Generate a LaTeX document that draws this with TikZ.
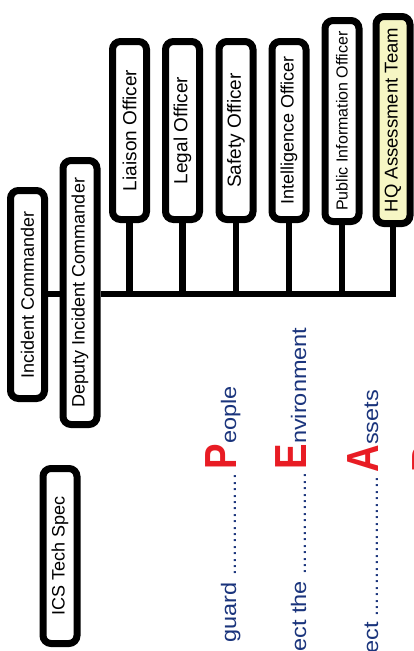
\documentclass[tikz,border=0pt]{standalone}
\usepackage{fontspec}
\setmainfont{Liberation Sans}
\definecolor{peartext}{RGB}{26,52,124}
\definecolor{pearred}{RGB}{232,28,36}
\definecolor{hqfill}{RGB}{246,246,196}
% a run of evenly spaced full stops of a given length
\newcommand{\dotrun}[1]{\hbox to #1{\leaders\hbox to 6.4pt{\hss.\hss}\hfill}}
\newcommand{\fs}[1]{\fontsize{#1}{#1}\selectfont}
% upright label set sideways inside a box
\newcommand{\sidelabel}[2]{\rotatebox{90}{\fs{#1}#2}}

\begin{document}
\begin{tikzpicture}[x=1pt,y=-1pt,
  orgbox/.style={draw=black, fill=white, line width=7pt, rounded corners=8pt,
                 minimum width=34pt, inner sep=0pt},
  link/.style={line width=6.5pt, black},
  word/.style={text=peartext, inner sep=0pt, rotate=90, font=\fs{21}},
  letter/.style={text=pearred, inner sep=0pt, rotate=90, font=\fs{45}\bfseries}]
\useasboundingbox (0,0) rectangle (414,651);
\clip (0,0) rectangle (414,651);
\fill[white] (0,0) rectangle (414,651);

% command column
\node[orgbox, minimum height=208pt] (inc) at (27.5,294.5) {\sidelabel{18}{Incident Commander}};
\node[orgbox, minimum height=264pt] (dep) at (80,292.5) {\sidelabel{18}{Deputy Incident Commander}};
\node[orgbox, minimum height=175pt] (ics) at (60,556) {\sidelabel{18}{ICS Tech Spec}};

% command staff
\node[orgbox, minimum height=178pt] (lia) at (129.5,130.5) {\sidelabel{19}{Liaison Officer}};
\node[orgbox, minimum height=178pt] (leg) at (182.5,130.5) {\sidelabel{19}{Legal Officer}};
\node[orgbox, minimum height=178pt] (saf) at (236,130.5) {\sidelabel{19}{Safety Officer}};
\node[orgbox, minimum height=178pt] (int) at (289,130.5) {\sidelabel{18}{Intelligence Officer}};
\node[orgbox, minimum height=201pt] (pio) at (342,121) {\sidelabel{16}{Public Information Officer}};
\node[orgbox, fill=hqfill, minimum height=207pt] (hq) at (393,120) {\sidelabel{18.5}{HQ Assessment Team}};

% connectors
\coordinate (busL) at (100,294);
\draw[link] (inc.east |- busL) -- (dep.west |- busL);
\draw[link] (dep.east |- busL) -| (hq.south);
\foreach \n in {lia,leg,saf,int,pio}
  \draw[link] (\n.south) -- (\n.south |- busL);

% P.E.A.R. lines
\node[letter, anchor=base west] (lP) at (236,470) {\scalebox{0.85}[1]{P}};
\node[word, anchor=base west] (wP) at (lP.base east) {\scalebox{1.12}[1]{eople}};
\node[word, anchor=base east] (sP) at (lP.base west) {\scalebox{1.12}[1]{guard}\hspace{6pt}\dotrun{106pt}};

\node[letter, anchor=base west] (lE) at (306,470) {\scalebox{0.85}[1]{E}};
\node[word, anchor=base west] (wE) at (lE.base east) {\scalebox{1.12}[1]{nvironment}};
\node[word, anchor=base east] (sE) at (lE.base west) {\scalebox{1.12}[1]{ect the}\hspace{6pt}\dotrun{105pt}};

\node[letter, anchor=base west] (lA) at (378,473) {\scalebox{0.85}[1]{A}};
\node[word, anchor=base west] (wA) at (lA.base east) {\scalebox{1.12}[1]{ssets}};
\node[word, anchor=base east] (sA) at (lA.base west) {\scalebox{1.12}[1]{ect}\hspace{5pt}\dotrun{144pt}};

\node[letter, anchor=base west] (lR) at (443,473) {\scalebox{0.85}[1]{R}};
\end{tikzpicture}
\end{document}
